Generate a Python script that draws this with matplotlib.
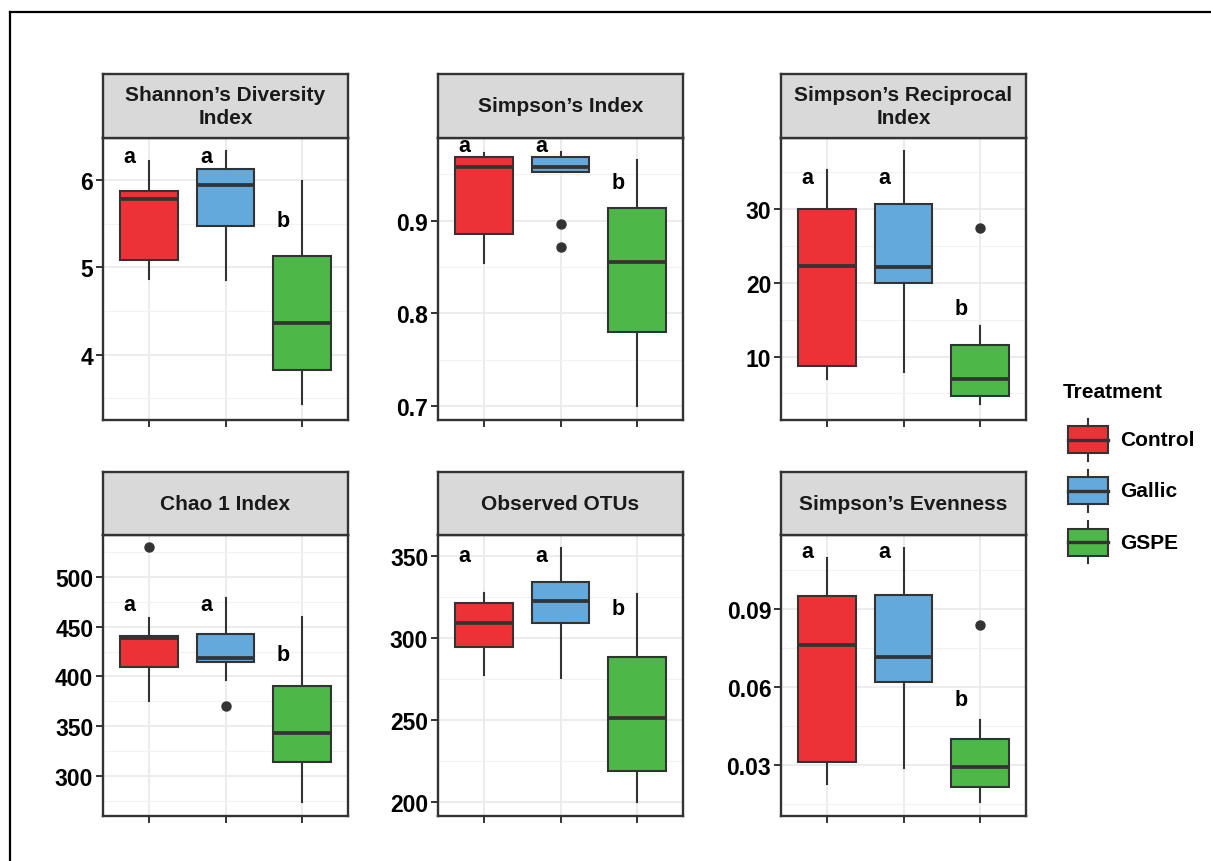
import numpy as np
import matplotlib
matplotlib.use('Agg')
import matplotlib.pyplot as plt
from matplotlib.patches import Rectangle
from matplotlib.lines import Line2D

plt.rcParams['font.family'] = ['Liberation Sans', 'DejaVu Sans']
plt.rcParams['font.weight'] = 'bold'

# treatments and fills
treatments = ['Control', 'Gallic', 'GSPE']
fills = ['#EC3236', '#64A9DB', '#4DB848']
letters = ['a', 'a', 'b']

# box stats per treatment: (whislo, q1, med, q3, whishi)
shannon_stats = [(4.87, 5.08, 5.78, 5.87, 6.22),
                 (4.85, 5.47, 5.94, 6.13, 6.33),
                 (3.43, 3.82, 4.36, 5.13, 5.99)]
shannon_fliers = [[], [], []]
shannon_letter_y = [6.27, 6.27, 5.53]

simpson_stats = [(0.854, 0.886, 0.9575, 0.968, 0.973),
                 (0.952, 0.952, 0.9575, 0.969, 0.974),
                 (0.700, 0.780, 0.855, 0.914, 0.965)]
simpson_fliers = [[], [0.896, 0.872], []]
simpson_letter_y = [0.981, 0.981, 0.941]

recip_stats = [(6.9, 8.7, 22.3, 30.0, 35.2),
               (7.9, 20.0, 22.1, 30.7, 37.9),
               (3.5, 4.6, 6.9, 11.5, 14.1)]
recip_fliers = [[], [], [27.4]]
recip_letter_y = [34.3, 34.3, 16.5]

chao_stats = [(375.3, 409.4, 438.4, 441.0, 458.4),
              (396.7, 415.0, 418.4, 442.7, 478.4),
              (274.4, 314.4, 343.4, 390.0, 460.0)]
chao_fliers = [[529.4], [370.4], []]
chao_letter_y = [471.7, 471.7, 422.5]

otus_stats = [(277.3, 294.3, 309.0, 321.1, 327.3),
              (275.7, 309.1, 322.6, 333.8, 354.7),
              (200.0, 218.8, 251.5, 288.2, 326.8)]
otus_fliers = [[], [], []]
otus_letter_y = [350.0, 350.0, 317.7]

even_stats = [(0.0227, 0.0310, 0.0762, 0.0949, 0.1096),
              (0.0287, 0.0619, 0.0714, 0.0954, 0.1135),
              (0.0156, 0.0214, 0.0293, 0.0402, 0.0473)]
even_fliers = [[], [], [0.0838]]
even_letter_y = [0.112, 0.112, 0.0553]

titles = ['Shannon\u2019s Diversity\nIndex', 'Simpson\u2019s Index',
          'Simpson\u2019s Reciprocal\nIndex', 'Chao 1 Index',
          'Observed OTUs', 'Simpson\u2019s Evenness']
ylims = [(3.25, 6.48), (0.685, 0.989), (1.4, 39.6),
         (260.2, 541.8), (191.7, 362.6), (0.0104, 0.1185)]
yticks = [[4, 5, 6], [0.7, 0.8, 0.9], [10, 20, 30],
          [300, 350, 400, 450, 500], [200, 250, 300, 350], [0.03, 0.06, 0.09]]
yticklabels = [['4', '5', '6'], ['0.7', '0.8', '0.9'], ['10', '20', '30'],
               ['300', '350', '400', '450', '500'], ['200', '250', '300', '350'],
               ['0.03', '0.06', '0.09']]

all_stats = [shannon_stats, simpson_stats, recip_stats, chao_stats, otus_stats, even_stats]
all_fliers = [shannon_fliers, simpson_fliers, recip_fliers, chao_fliers, otus_fliers, even_fliers]
all_letter_y = [shannon_letter_y, simpson_letter_y, recip_letter_y,
                chao_letter_y, otus_letter_y, even_letter_y]

W, H = 1211, 862
fig = plt.figure(figsize=(W / 100, H / 100), dpi=100)

edge = '#333333'
fs = 15

# panel layout in pixels
lefts = [103, 438, 781]
pw = 245
rows = [(139, 421, 75), (536, 817, 473)]  # plot top, plot bottom, strip top

for k in range(6):
    r, c = divmod(k, 3)
    top, bot, stop = rows[r]
    ax = fig.add_axes([lefts[c] / W, 1 - bot / H, pw / W, (bot - top) / H])
    sax = fig.add_axes([lefts[c] / W, 1 - top / H, pw / W, (top - stop) / H])

    stats = []
    for s, fl in zip(all_stats[k], all_fliers[k]):
        stats.append(dict(whislo=s[0], q1=s[1], med=s[2], q3=s[3], whishi=s[4], fliers=fl))
    bp = ax.bxp(stats, positions=[1, 2, 3], widths=0.75, patch_artist=True,
                showcaps=False,
                boxprops=dict(edgecolor=edge, linewidth=1.5),
                medianprops=dict(color=edge, linewidth=2.7, solid_capstyle='butt'),
                whiskerprops=dict(color=edge, linewidth=1.5),
                flierprops=dict(marker='o', markerfacecolor=edge, markeredgecolor=edge,
                                markersize=6.5))
    for patch, col in zip(bp['boxes'], fills):
        patch.set_facecolor(col)

    for i, (lt, ly) in enumerate(zip(letters, all_letter_y[k])):
        ax.text(i + 1 - 0.25, ly, lt, ha='center', va='center', fontsize=fs + 0.5,
                fontweight='bold', color='black')

    ax.set_xlim(0.4, 3.6)
    ax.set_ylim(*ylims[k])
    ax.set_xticks([1, 2, 3])
    ax.set_xticklabels([])
    ax.set_yticks(yticks[k])
    ax.set_yticklabels(yticklabels[k])
    step = yticks[k][1] - yticks[k][0]
    minor = np.arange(yticks[k][0] - step / 2, yticks[k][-1] + step, step)
    minor = [m for m in minor if ylims[k][0] < m < ylims[k][1]]
    ax.set_yticks(minor, minor=True)
    ax.tick_params(which='major', length=5, width=1.4, color=edge,
                   labelsize=16.5, labelcolor='black', pad=2)
    ax.tick_params(which='minor', length=0)
    ax.set_axisbelow(True)
    ax.grid(which='major', color='#EBEBEB', linewidth=1.3)
    ax.grid(which='minor', axis='y', color='#F2F2F2', linewidth=0.8)
    for sp in ax.spines.values():
        sp.set_color(edge)
        sp.set_linewidth(1.7)

    sax.set_facecolor('#D9D9D9')
    sax.set_xticks([])
    sax.set_yticks([])
    for sp in sax.spines.values():
        sp.set_color(edge)
        sp.set_linewidth(1.7)
    sax.text(0.5, 0.5, titles[k], ha='center', va='center', fontsize=fs,
             fontweight='bold', color='#1a1a1a', linespacing=1.3,
             transform=sax.transAxes)

# overlay for the outer frame (pixel units)
ov = fig.add_axes([0, 0, 1, 1], zorder=-1)
ov.set_xlim(0, W)
ov.set_ylim(H, 0)
ov.axis('off')
ov.add_line(Line2D([10, W], [13, 13], color='black', linewidth=1.6))
ov.add_line(Line2D([10, 10], [13, H], color='black', linewidth=1.6))

# legend drawn by hand, ggplot style keys
leg = fig.add_axes([0, 0, 1, 1], zorder=5)
leg.set_xlim(0, W)
leg.set_ylim(H, 0)
leg.axis('off')
leg.text(1063, 393, 'Treatment', ha='left', va='center', fontsize=fs,
         fontweight='bold', color='black')
for i, (name, col) in enumerate(zip(treatments, fills)):
    cy = 440.5 + i * 51.3
    leg.add_line(Line2D([1088, 1088], [cy - 21, cy + 21], color=edge, linewidth=1.5))
    leg.add_patch(Rectangle((1068, cy - 13.5), 40, 27, facecolor=col,
                            edgecolor=edge, linewidth=1.5, zorder=3))
    leg.add_line(Line2D([1068, 1108], [cy, cy], color=edge, linewidth=2.4, zorder=4))
    leg.text(1120, cy, name, ha='left', va='center', fontsize=fs,
             fontweight='bold', color='black')

fig.savefig('out.png', dpi=100)
